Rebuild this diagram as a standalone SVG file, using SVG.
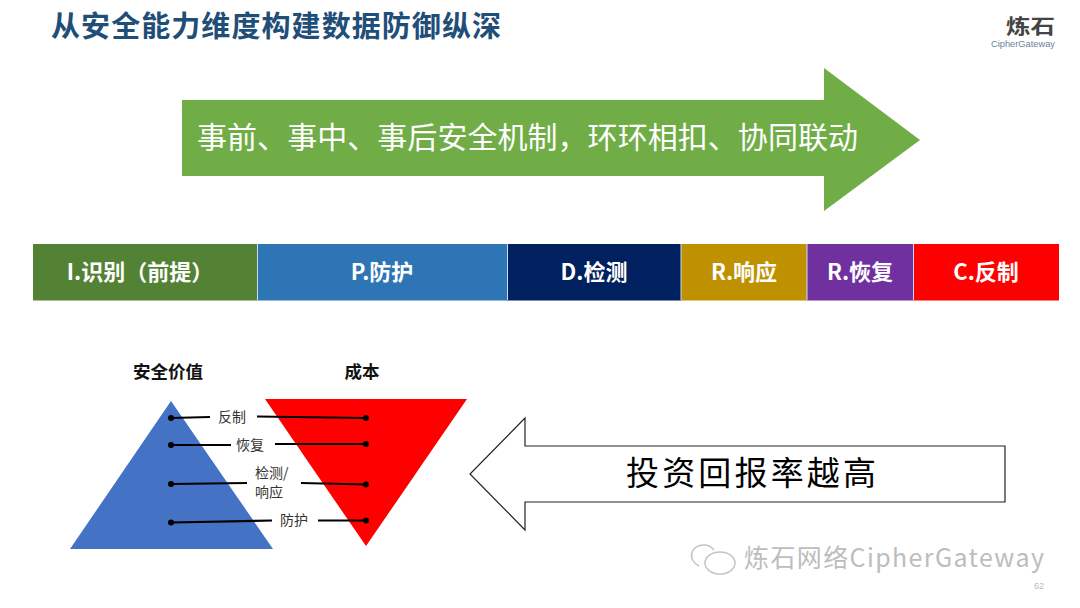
<svg xmlns="http://www.w3.org/2000/svg" width="1080" height="608" viewBox="0 0 1080 608">
<style>
text{font-family:"Noto Sans CJK SC","Liberation Sans",sans-serif}
.seg{fill:#fff;font-size:22px;font-weight:700;text-anchor:middle}
.sep{stroke:#c9ddf0;stroke-width:1;fill:none}
.lbl{fill:#333;font-size:14px}
.hd{fill:#111;font-size:17.500px;font-weight:700;text-anchor:middle}
.ln{stroke:#000;stroke-width:2.2;fill:none}
.dot{fill:#000}
</style>
<rect width="1080" height="608" fill="#fff"/>
<text id="title" x="51" y="37" font-size="29" font-weight="700" fill="#1f4e79" textLength="450" lengthAdjust="spacing">从安全能力维度构建数据防御纵深</text>
<g id="logo">
<text x="1006" y="33.500" font-size="20" font-weight="700" fill="#444" textLength="49" lengthAdjust="spacingAndGlyphs">炼石</text>
<text x="991" y="47" font-size="8.5" fill="#6b7f9a" style="font-family:'Liberation Sans',sans-serif" textLength="64" lengthAdjust="spacingAndGlyphs">CipherGateway</text>
</g>
<g id="banner-arrow">
<polygon points="182,100 824,100 824,68 920,140 824,211 824,176 182,176" fill="#70ad47"/>
<text x="197" y="148" font-size="30" fill="#fff" textLength="661" lengthAdjust="spacing">事前、事中、事后安全机制，环环相扣、协同联动</text>
</g>
<g id="seg-i"><rect x="33" y="244" width="224" height="56.500" fill="#548235"/><text class="seg" x="140" y="280">I.识别（前提）</text></g>
<g id="seg-p"><rect x="257" y="244" width="250" height="56.500" fill="#2e75b6"/><text class="seg" x="382" y="280">P.防护</text></g>
<g id="seg-d"><rect x="507" y="244" width="174" height="56.500" fill="#002060"/><text class="seg" x="594" y="280">D.检测</text></g>
<g id="seg-r1"><rect x="681" y="244" width="126" height="56.500" fill="#bf9000"/><text class="seg" x="744" y="280">R.响应</text></g>
<g id="seg-r2"><rect x="807" y="244" width="106" height="56.500" fill="#7030a0"/><text class="seg" x="860" y="280">R.恢复</text></g>
<g id="seg-c"><rect x="913" y="244" width="146" height="56.500" fill="#ff0000"/><text class="seg" x="986" y="280">C.反制</text></g>
<g id="separators">
<path class="sep" d="M257.500 244V300M507.500 244V300M681 244V300M807 244V300M913.500 244V300"/>
</g>
<g id="value-triangle">
<polygon points="171,401 273,549 70,549" fill="#4472c4"/>
<text class="hd" x="168" y="378">安全价值</text>
</g>
<g id="cost-triangle">
<polygon points="265,399 467,399 366,546" fill="#ff0000"/>
<text class="hd" x="362" y="378">成本</text>
</g>
<g id="connectors">
<path class="ln" d="M171 418 L210 417"/>
<path class="ln" d="M257 416.500 L366 418"/>
<path class="ln" d="M171 445 L231 445"/>
<path class="ln" d="M275 444 L366 444"/>
<path class="ln" d="M171 484 L247 483"/>
<path class="ln" d="M301 483 L366 484.500"/>
<path class="ln" d="M171 522.500 L272 520.500"/>
<path class="ln" d="M318 520.500 L366 520.500"/>
<circle class="dot" cx="171" cy="418" r="3"/><circle class="dot" cx="366" cy="418" r="3"/>
<circle class="dot" cx="171" cy="445" r="3"/><circle class="dot" cx="366" cy="444" r="3"/>
<circle class="dot" cx="171" cy="484" r="3"/><circle class="dot" cx="366" cy="484.500" r="3"/>
<circle class="dot" cx="171" cy="522.500" r="3"/><circle class="dot" cx="366" cy="520.500" r="3"/>
</g>
<g id="labels">
<text class="lbl" x="218" y="422">反制</text>
<text class="lbl" x="236" y="450">恢复</text>
<text class="lbl" x="255" y="478">检测/</text>
<text class="lbl" x="255" y="497">响应</text>
<text class="lbl" x="280" y="525">防护</text>
</g>
<g id="roi-arrow">
<polygon points="1005,446 525,446 525,418 470,474 525,530 525,502 1005,502" fill="#fff" stroke="#222" stroke-width="1.200"/>
<text x="626" y="485" font-size="33" fill="#000" textLength="250" lengthAdjust="spacing">投资回报率越高</text>
</g>
<g id="watermark">
<g fill="none" stroke="#c4c4c4" stroke-width="1.500">
<path d="M692 552 C696 544 708 542 714 550 M692 552 C690 558 694 564 699 566"/>
<ellipse cx="720" cy="563" rx="15" ry="11"/>
</g>
<text x="744" y="567" font-size="25" fill="#bdbdbd" textLength="300" lengthAdjust="spacing">炼石网络CipherGateway</text>
<text x="1034" y="589" font-size="9" fill="#bbb" style="font-family:'Liberation Sans',sans-serif">62</text>
</g>
</svg>
